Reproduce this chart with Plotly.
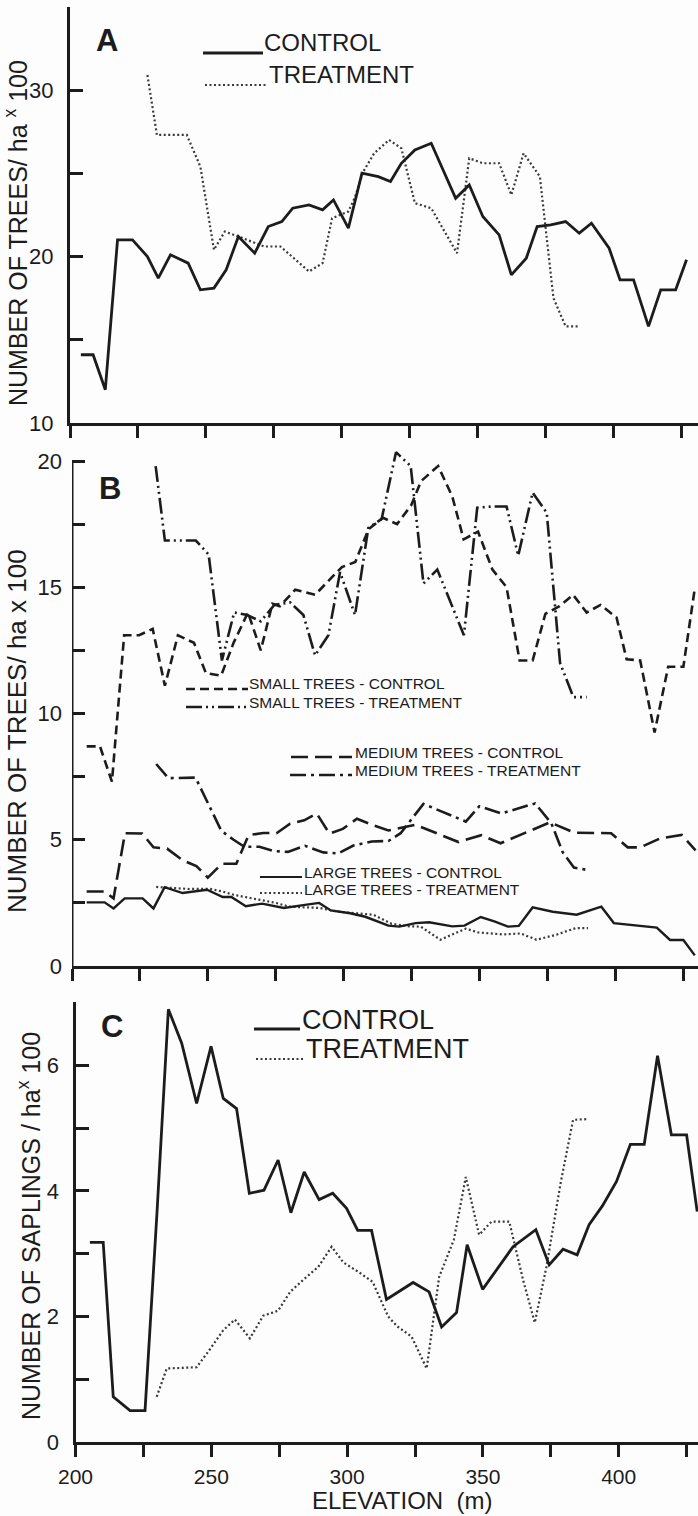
import plotly.graph_objects as go

# ---------------- data ----------------
# Panel A: number of trees / ha x 100
a_ctrl_elev = [204, 208.5, 213, 217.5, 223, 228.5, 232.5, 237, 243.5, 248, 253, 257.5, 262, 268, 273,
               278, 282, 288, 293, 297, 302.5, 307.5, 313.5, 318, 322, 327, 333, 342, 347, 352,
               358, 362.5, 368, 372, 377, 382.5, 387.5, 392, 398.5, 402.5, 407.5, 413, 417.5, 423, 427]
a_ctrl = [14.1, 14.1, 12.0, 21.0, 21.0, 20.0, 18.7, 20.1, 19.6, 18.0, 18.1, 19.2, 21.2, 20.2, 21.8,
          22.1, 22.9, 23.1, 22.8, 23.4, 21.7, 25.0, 24.8, 24.5, 25.6, 26.4, 26.8, 23.5, 24.3, 22.4,
          21.3, 18.9, 19.9, 21.8, 21.9, 22.1, 21.4, 22.0, 20.5, 18.6, 18.6, 15.8, 18.0, 18.0, 19.8]
a_trt_elev = [228.5, 232, 243, 248, 253, 257, 262, 271.5, 277.5, 288, 293, 296.5, 302.5, 305, 308,
              312, 317.5, 322, 327, 333, 342.5, 347, 352, 358, 362.5, 367, 373, 378, 382.5, 387.5]
a_trt = [30.9, 27.3, 27.3, 25.4, 20.4, 21.5, 21.2, 20.6, 20.6, 19.1, 19.6, 22.3, 22.7, 23.6, 25.1,
         26.2, 27.0, 26.5, 23.2, 22.9, 20.2, 25.9, 25.6, 25.6, 23.7, 26.2, 24.8, 17.5, 15.8, 15.8]

# Panel B: by size class
b_small_ctrl_elev = [205.4, 210.3, 214.7, 219.2, 224.7, 229.7, 234.2, 239, 244.9, 249.3, 254.9, 259.5,
                     264.8, 269.5, 273.8, 276.5, 282.2, 289.5, 295.3, 299.4, 304.3, 309.2, 314.5, 319.7,
                     324.9, 328.5, 334.8, 340, 344.2, 349.5, 354.8, 360, 364.8, 369.6, 374.3, 379.5,
                     384.5, 389.5, 394.6, 400.5, 404.2, 409.2, 414.5, 419.5, 425.1, 429.3]
b_small_ctrl = [8.7, 8.7, 7.3, 13.1, 13.1, 13.35, 11.1, 13.1, 12.8, 11.6, 11.5, 12.8,
                14.0, 12.5, 14.35, 14.25, 14.9, 14.7, 15.35, 15.8, 16.0, 17.3, 17.75, 17.5,
                18.25, 19.2, 19.8, 18.6, 16.9, 17.2, 15.7, 15.0, 12.1, 12.1, 13.95, 14.25,
                14.7, 14.0, 14.3, 13.8, 12.15, 12.1, 9.25, 11.85, 11.85, 14.95]
b_small_trt_elev = [230.8, 234.2, 245.6, 250.3, 255.2, 259.7, 264.5, 269.5, 274.5, 280.3, 285.2, 289.5,
                    294.4, 298.7, 304.2, 309.1, 314, 319.3, 324.7, 329.4, 334.5, 344.3, 349.2, 354.9,
                    360, 364.3, 369.6, 374.8, 379.7, 384.6, 389.5]
b_small_trt = [19.8, 16.85, 16.85, 16.3, 12.1, 14.0, 13.9, 13.65, 14.3, 14.4, 13.9, 12.3,
               13.1, 15.6, 13.9, 17.35, 17.7, 20.35, 19.8, 15.15, 15.7, 13.1, 18.15, 18.2,
               18.2, 16.25, 18.75, 17.95, 12.0, 10.65, 10.65]
b_med_ctrl_elev = [205.4, 212, 215.3, 219.5, 225.8, 230, 235, 240.8, 245.8, 250, 255.2, 260.5, 265,
                   270.4, 275.3, 280.3, 285.5, 290.1, 294.8, 299.7, 304.9, 311, 316.5, 326.5, 342.3,
                   350.7, 357.8, 376, 385, 398.5, 404.6, 409.3, 416.5, 424.5, 429.6]
b_med_ctrl = [2.95, 2.95, 2.68, 5.26, 5.25, 4.7, 4.65, 4.18, 3.96, 3.5, 4.05, 4.05, 5.18,
              5.27, 5.26, 5.64, 5.77, 6.04, 5.24, 5.43, 5.83, 5.57, 5.37, 5.59, 4.91,
              5.18, 4.86, 5.69, 5.28, 5.26, 4.7, 4.7, 5.05, 5.19, 4.58]
b_med_trt_elev = [231, 235.5, 245.5, 255, 259.5, 263.5, 269, 274.5, 279.5, 285.8, 292.5, 298, 303.6,
                  310.4, 316.5, 321, 329.4, 345, 350, 358, 370.5, 376.5, 380.7, 384.8, 389.8]
b_med_trt = [8.0, 7.44, 7.46, 5.35, 5.0, 4.72, 4.72, 4.55, 4.52, 4.76, 4.5, 4.46, 4.77,
             4.93, 4.95, 5.26, 6.42, 5.72, 6.33, 6.04, 6.44, 5.65, 4.5, 3.9, 3.8]
b_large_ctrl_elev = [205.4, 212, 215.3, 219.4, 226, 230, 234.1, 240.7, 249.7, 255.5, 258.7, 264, 270,
                     278, 285.8, 291, 295.3, 302.4, 308, 316.5, 320.5, 326.5, 331.5, 340, 344.5,
                     350.5, 355.5, 360.5, 364.5, 369.6, 377, 385.8, 394.9, 399.5, 415.3, 420.2,
                     425.1, 429.3]
b_large_ctrl = [2.52, 2.52, 2.28, 2.68, 2.68, 2.28, 3.12, 2.89, 3.02, 2.73, 2.73, 2.37, 2.47,
                2.3, 2.42, 2.5, 2.2, 2.09, 1.95, 1.6, 1.56, 1.7, 1.73, 1.57, 1.6,
                1.94, 1.77, 1.56, 1.59, 2.32, 2.15, 2.03, 2.35, 1.7, 1.52, 1.03,
                1.03, 0.42]
b_large_trt_elev = [231, 236, 243, 250.5, 255.5, 259.5, 265, 275, 280, 291, 298, 306, 311, 317.7,
                    324.3, 328.4, 335.6, 345, 349.5, 358.7, 365.2, 371, 378.4, 385.4, 390]
b_large_trt = [3.13, 3.1, 3.05, 3.06, 2.95, 2.82, 2.7, 2.5, 2.35, 2.3, 2.15, 2.08, 2.03, 1.67,
               1.57, 1.56, 1.04, 1.48, 1.33, 1.25, 1.29, 1.04, 1.24, 1.5, 1.5]

# Panel C: number of saplings / ha x 100
c_ctrl_elev = [205.3, 210.2, 213.9, 220.1, 225.6, 230, 234.2, 239.1, 244.6, 249.9, 254.4, 259.3, 264,
               269.4, 274.6, 279.3, 284.2, 289.7, 294.7, 299.8, 303.9, 309, 314.5, 324.3, 330.2,
               334.8, 340.3, 344.2, 349.9, 355.6, 361.1, 369.5, 374.4, 379.5, 384.7, 389.1, 394,
               399.2, 404.3, 409.4, 414.3, 419.4, 425, 428.9]
c_ctrl = [3.18, 3.18, 0.72, 0.5, 0.5, 3.65, 6.89, 6.35, 5.39, 6.3, 5.47, 5.31, 3.96,
          4.01, 4.49, 3.65, 4.3, 3.86, 3.96, 3.72, 3.37, 3.37, 2.27, 2.54, 2.39,
          1.83, 2.06, 3.14, 2.43, 2.77, 3.11, 3.38, 2.82, 3.07, 2.98, 3.46, 3.76,
          4.15, 4.74, 4.74, 6.15, 4.89, 4.89, 3.67]
c_trt_elev = [229.9, 233.6, 244.6, 248.9, 254.4, 258.7, 264.2, 269.1, 274.6, 279, 283.8, 289.4,
              294.3, 298.6, 304.1, 309.4, 315.1, 318.5, 323.7, 329.3, 333.9, 339.3, 343.7, 348.6,
              353.2, 359.7, 364.8, 369.1, 373.4, 378.6, 383.2, 388.1]
c_trt = [0.72, 1.17, 1.19, 1.44, 1.78, 1.95, 1.65, 2.01, 2.09, 2.39, 2.58, 2.79,
         3.11, 2.86, 2.71, 2.55, 2.0, 1.84, 1.68, 1.17, 2.63, 3.22, 4.22, 3.3,
         3.51, 3.51, 2.58, 1.9, 2.79, 4.12, 5.13, 5.14]

# tick positions / labels
x_major = [200, 250, 300, 350, 400]
x_major_text = ["200", "250", "300", "350", "400"]
x_minor = [225, 275, 325, 375, 425]
a_major = [10, 20, 30]
a_minor = [15, 25, 35]
b_major = [0, 5, 10, 15, 20]
b_minor = [2.5, 7.5, 12.5, 17.5]
c_major = [0, 2, 4, 6]
c_minor = [1, 3, 5, 7]

# ---------------- styling ----------------
W, H = 698, 1516
INK = "#1c1c1c"
DOT = "#3a3a3a"
FONT = "Liberation Sans, Arial, sans-serif"

DASH_SMALL_CTRL = "9px,5px"
DASH_SMALL_TRT = "16px,4px,2px,4px,2px,4px"
DASH_MED_CTRL = "17px,7px"
DASH_MED_TRT = "16px,5px,3px,5px"
DASH_DOTTED = "2px,2.5px"


def px_x(p):
    return p / W


def px_y(p):
    return (H - p) / H


fig = go.Figure()


def add_line(x, y, xa, ya, dash, color=INK, width=2.6):
    fig.add_trace(go.Scatter(x=x, y=y, xaxis=xa, yaxis=ya, mode="lines",
                             line=dict(color=color, width=width, dash=dash),
                             hoverinfo="skip", showlegend=False))


# Panel A
add_line(a_trt_elev, a_trt, "x", "y", DASH_DOTTED, DOT, 2.2)
add_line(a_ctrl_elev, a_ctrl, "x", "y", "solid", INK, 2.8)
# Panel B
add_line(b_small_ctrl_elev, b_small_ctrl, "x2", "y2", DASH_SMALL_CTRL)
add_line(b_small_trt_elev, b_small_trt, "x2", "y2", DASH_SMALL_TRT)
add_line(b_med_ctrl_elev, b_med_ctrl, "x2", "y2", DASH_MED_CTRL)
add_line(b_med_trt_elev, b_med_trt, "x2", "y2", DASH_MED_TRT)
add_line(b_large_trt_elev, b_large_trt, "x2", "y2", DASH_DOTTED, DOT, 2.2)
add_line(b_large_ctrl_elev, b_large_ctrl, "x2", "y2", "solid", INK, 2.4)
# Panel C
add_line(c_trt_elev, c_trt, "x3", "y3", DASH_DOTTED, DOT, 2.2)
add_line(c_ctrl_elev, c_ctrl, "x3", "y3", "solid", INK, 2.8)

# ---------------- axes ----------------
PX_PER_M = 2.716


def xaxis(left_px, labels, anchor):
    right_val = 200 + (W - left_px) / PX_PER_M
    return dict(domain=[px_x(left_px), 1.0], range=[200, right_val], anchor=anchor,
                automargin=False,
                showgrid=False, zeroline=False, showline=True, linecolor=INK, linewidth=3,
                ticks="outside", ticklen=12, tickwidth=2.5, tickcolor=INK,
                tickmode="array", tickvals=x_major, ticktext=x_major_text,
                showticklabels=labels, ticklabelstandoff=2,
                minor=dict(tickmode="array", tickvals=x_minor, ticks="outside",
                           ticklen=12, tickwidth=2.5, tickcolor=INK, showgrid=False),
                tickfont=dict(family=FONT, size=21, color=INK), fixedrange=True)


def yaxis(bottom_px, top_px, rng, major, minor, anchor, showline=True):
    return dict(domain=[px_y(bottom_px), px_y(top_px)], range=rng, anchor=anchor,
                automargin=False,
                showgrid=False, zeroline=False, showline=showline, linecolor=INK, linewidth=3,
                ticks="inside", ticklen=13, tickwidth=2.5, tickcolor=INK,
                tickmode="array", tickvals=major, ticktext=[str(v) for v in major],
                minor=dict(tickmode="array", tickvals=minor, ticks="inside",
                           ticklen=13, tickwidth=2.5, tickcolor=INK, showgrid=False),
                ticklabelstandoff=9,
                tickfont=dict(family=FONT, size=22, color=INK), fixedrange=True)


# A: 10 at y=423, 16.65 px per unit
a_top_px = 423 - 25 * 16.65
# B: 0 at y=966, 25.25 px per unit
b_top_px = 966 - 20.6 * 25.25
# C: 0 at y=1442, 62.8 px per unit
c_top_px = 1442 - 7 * 62.8

fig.update_layout(
    xaxis=xaxis(70, False, "y"),
    yaxis=yaxis(423, a_top_px, [10, 35], a_major, a_minor, "x"),
    xaxis2=xaxis(72, False, "y2"),
    yaxis2=yaxis(966, b_top_px, [0, 20.6], b_major, b_minor, "x2", showline=False),
    xaxis3=xaxis(75.5, True, "y3"),
    yaxis3=yaxis(1442, c_top_px, [0, 7], c_major, c_minor, "x3"),
)

shapes = []
# B vertical axis line from 0 to 20
shapes.append(dict(type="line", xref="x2", yref="y2", x0=200, x1=200, y0=0, y1=20,
                   line=dict(color=INK, width=3)))


def legend_line(x0, x1, y, dash, color=INK, width=2.4):
    shapes.append(dict(type="line", xref="paper", yref="paper",
                       x0=px_x(x0), x1=px_x(x1), y0=px_y(y), y1=px_y(y),
                       line=dict(color=color, width=width, dash=dash)))


annotations = []


def text(x, y, s, size, anchor="left", angle=0, bold=False, yanchor="middle"):
    annotations.append(dict(xref="paper", yref="paper", x=px_x(x), y=px_y(y), text=s,
                            showarrow=False, xanchor=anchor, yanchor=yanchor, textangle=angle,
                            borderpad=0,
                            font=dict(family=FONT, size=size, color=INK,
                                      weight="bold" if bold else "normal")))


# Panel A legend
legend_line(203, 263, 53, "solid", INK, 2.8)
text(263, 43, "CONTROL", 24)
legend_line(205, 268, 85, DASH_DOTTED, DOT, 2.2)
text(268, 75, "TREATMENT", 24)

# Panel B legend
legend_line(186, 248, 689, DASH_SMALL_CTRL)
text(248, 683, "SMALL TREES - CONTROL", 15.5)
legend_line(186, 248, 707, DASH_SMALL_TRT)
text(248, 702, "SMALL TREES - TREATMENT", 15.5)
legend_line(291, 352, 757, DASH_MED_CTRL)
text(354, 752, "MEDIUM TREES - CONTROL", 15.5)
legend_line(290, 352, 775, DASH_MED_TRT)
text(354, 770, "MEDIUM TREES - TREATMENT", 15.5)
legend_line(260, 302, 877, "solid", INK, 2.2)
text(303, 872, "LARGE TREES - CONTROL", 15.5)
legend_line(260, 302, 893, DASH_DOTTED, DOT, 2.0)
text(303, 889, "LARGE TREES - TREATMENT", 15.5)

# Panel C legend
legend_line(254, 300, 1029, "solid", INK, 2.8)
text(301, 1020, "CONTROL", 27)
legend_line(256, 304, 1059, DASH_DOTTED, DOT, 2.2)
text(305, 1049, "TREATMENT", 27)

# Panel letters
text(107, 40, "A", 31, anchor="center", bold=True)
text(110, 488, "B", 31, anchor="center", bold=True)
text(112, 1026, "C", 31, anchor="center", bold=True)

# Axis titles
text(16, 233, "NUMBER OF TREES/ ha <sup>x</sup> 100", 25, anchor="center", angle=-90)
text(17, 731, "NUMBER OF TREES/ ha x 100", 26, anchor="center", angle=-90)
text(29, 1226, "NUMBER OF SAPLINGS / ha<sup>x</sup> 100", 25, anchor="center", angle=-90)
text(402, 1500, "ELEVATION  (m)", 24, anchor="center")

fig.update_layout(
    template="none",
    width=W, height=H,
    autosize=False,
    margin=dict(l=0, r=0, t=0, b=0, pad=0, autoexpand=False),
    paper_bgcolor="#fdfdfd", plot_bgcolor="#fdfdfd",
    shapes=shapes, annotations=annotations,
    showlegend=False,
    font=dict(family=FONT, color=INK),
)

fig.write_html("out.html", config={"displayModeBar": False})
